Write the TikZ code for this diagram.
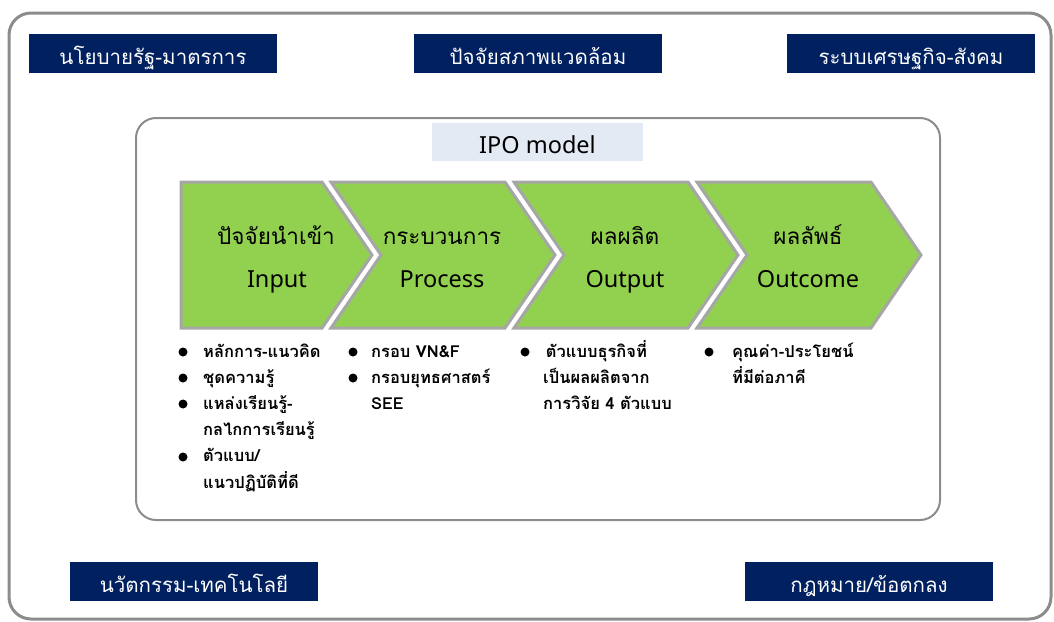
\documentclass[tikz,border=0pt]{standalone}
\usepackage{fontspec}
\setmainfont[Script=Thai]{Loma}
\newfontfamily\latfont{Noto Sans}

\definecolor{navy}{HTML}{002060}
\definecolor{chevgreen}{HTML}{92D050}
\definecolor{chevline}{HTML}{A6A6A6}
\definecolor{framegray}{HTML}{8C8C8C}
\definecolor{labelblue}{HTML}{E4EAF4}

\begin{document}
\begin{tikzpicture}[x=1pt,y=-1pt,line join=miter]

	\def \ctop{182}
	\def \cmid{255}
	\def \cbot{328}
	\tikzstyle{hdbox}=[fill=navy,text=white,font=\fontsize{20.5}{24}\selectfont,minimum width=248pt,minimum height=39pt,inner sep=0pt,text height=23pt,text depth=2pt]
	\tikzstyle{chev}=[fill=chevgreen,draw=chevline,line width=3pt]
	\tikzstyle{th-node}=[font=\fontsize{22.5}{26}\selectfont,anchor=base,inner sep=0pt]
	\tikzstyle{en-node}=[font=\fontsize{23.5}{26}\latfont,anchor=base,inner sep=0pt]
	\tikzstyle{list}=[anchor=base west,inner sep=0pt,font=\fontsize{16.5}{26.2}\selectfont\bfseries]
	\useasboundingbox (0,0) rectangle (1054,621);

	% frames
	\draw[framegray,line width=3pt,rounded corners=22pt] (9,13) rectangle (1051,619);
	\draw[framegray,line width=2pt,rounded corners=20pt] (136,118) rectangle (940,520);

	% outer labels
	\node[hdbox] (b0) at (153,53.5) {นโยบายรัฐ-มาตรการ};
	\node[hdbox] (b1) at (538,53.5) {ปัจจัยสภาพแวดล้อม};
	\node[hdbox] (b2) at (911,53.5) {ระบบเศรษฐกิจ-สังคม};
	\node[hdbox] (b3) at (194,581.5) {นวัตกรรม-เทคโนโลยี};
	\node[hdbox] (b4) at (869,581.5) {กฎหมาย/ข้อตกลง};

	% model title
	\node[fill=labelblue,minimum width=211pt,minimum height=38pt,inner sep=0pt,text height=24pt,text depth=2pt,font=\fontsize{23.5}{26}\latfont] (ipo) at (537.5,142) {IPO model};

	% chevrons
	\filldraw[chev] (181,\ctop) -- (322,\ctop) -- (372,\cmid) -- (322,\cbot) -- (181,\cbot) -- cycle;
	\filldraw[chev] (331,\ctop) -- (505,\ctop) -- (555,\cmid) -- (505,\cbot) -- (331,\cbot) -- (381,\cmid) -- cycle;
	\filldraw[chev] (514,\ctop) -- (688,\ctop) -- (738,\cmid) -- (688,\cbot) -- (514,\cbot) -- (564,\cmid) -- cycle;
	\filldraw[chev] (697,\ctop) -- (871,\ctop) -- (921,\cmid) -- (871,\cbot) -- (697,\cbot) -- (747,\cmid) -- cycle;

	\node[th-node] (c0th) at (276,244) {ปัจจัยนำเข้า};
	\node[en-node] (c0en) at (277,287) {Input};
	\node[th-node] (c1th) at (442,244) {กระบวนการ};
	\node[en-node] (c1en) at (442,287) {Process};
	\node[th-node] (c2th) at (625,244) {ผลผลิต};
	\node[en-node] (c2en) at (625,287) {Output};
	\node[th-node] (c3th) at (808,244) {ผลลัพธ์};
	\node[en-node] (c3en) at (808,287) {Outcome};

	% bullet lists
	\node[list] (l0) at (203,357) {\begin{tabular}[t]{@{}l@{}}หลักการ-แนวคิด\\ชุดความรู้\\แหล่งเรียนรู้-\\กลไกการเรียนรู้\\ตัวแบบ/\\แนวปฏิบัติที่ดี\end{tabular}};
	\node[list] (l1) at (371,357) {\begin{tabular}[t]{@{}l@{}}กรอบ VN\&F\\กรอบยุทธศาสตร์\\SEE\end{tabular}};
	\node[list] (l2) at (543,357) {\begin{tabular}[t]{@{}l@{}}\,ตัวแบบธุรกิจที่\\เป็นผลผลิตจาก\\การวิจัย 4 ตัวแบบ\end{tabular}};
	\node[list] (l3) at (732,357) {\begin{tabular}[t]{@{}l@{}}คุณค่า-ประโยชน์\\ที่มีต่อภาคี\end{tabular}};

	\fill (183,352) circle[radius=4.5pt];
	\fill (183,378) circle[radius=4.5pt];
	\fill (183,404) circle[radius=4.5pt];
	\fill (183,457) circle[radius=4.5pt];
	\fill (353,352) circle[radius=4.5pt];
	\fill (353,378) circle[radius=4.5pt];
	\fill (525,352) circle[radius=4.5pt];
	\fill (709,352) circle[radius=4.5pt];
\end{tikzpicture}
\end{document}
